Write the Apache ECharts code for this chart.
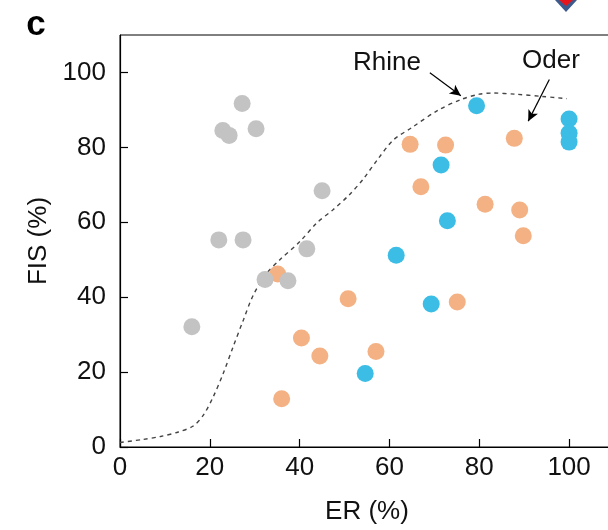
<!DOCTYPE html>
<html>
<head>
<meta charset="utf-8">
<script src="https://cdn.jsdelivr.net/npm/echarts@6/dist/echarts.min.js"></script>
<style>
  html, body { margin: 0; padding: 0; background: #fff; }
  #chart { width: 608px; height: 530px; }
</style>
</head>
<body>
<div id="chart"></div>
<script>
// ER (%) / FIS (%) pairs
const grayPoints = [
  [16.0, 32.1], [22.0, 55.3], [27.4, 55.3], [27.2, 91.7], [22.9, 84.5],
  [24.3, 83.2], [30.3, 85.0], [32.3, 44.7], [37.4, 44.4], [41.6, 52.9], [45.0, 68.4]
];
const orangePoints = [
  [35.1, 46.2], [50.8, 39.6], [40.4, 29.1], [44.5, 24.3], [57.0, 25.5],
  [36.0, 12.9], [64.6, 80.8], [72.5, 80.6], [87.8, 82.4], [67.0, 69.5],
  [81.3, 64.8], [89.0, 63.3], [89.8, 56.4], [75.1, 38.7]
];
const bluePoints = [
  [54.6, 19.6], [61.5, 51.2], [79.4, 91.1], [100, 87.6], [100, 83.8],
  [100, 81.4], [71.5, 75.3], [72.9, 60.4], [69.3, 38.2]
];
// dashed Rhine curve
const rhineCurve = [
  [0, 1.2], [5, 2.0], [9, 2.8], [13, 4.0], [16.3, 5.6], [18.6, 8.6], [20.8, 13.5],
  [23, 19.7], [25.2, 26.8], [27.5, 34], [29.7, 40.6], [32.7, 46.4], [35.6, 50],
  [40.1, 54.9], [43.8, 59.8], [47.5, 63.4], [51.2, 67.5], [54.2, 71.6], [57.5, 77],
  [60.9, 82], [65, 85.3], [70.8, 89.9], [76, 92.8], [80, 94.2], [83, 94.5],
  [88, 94.2], [94, 93.6], [99.5, 93]
];
const xTicks = [0, 20, 40, 60, 80, 100];
const yTicks = [0, 20, 40, 60, 80, 100];
// annotation arrows (start -> end, data coords)
const rhineArrow = [[69.0, 99.9], [75.9, 93.8]];
const oderArrow = [[95.6, 98.1], [90.9, 87.0]];

const font = '"Liberation Sans", Arial, sans-serif';
const chart = echarts.init(document.getElementById('chart'));

chart.setOption({
  animation: false,
  grid: {
    left: 120, top: 35, width: 494, bottom: 83,
    outerBoundsMode: 'none',
    show: true, borderColor: '#000', borderWidth: 1
  },
  xAxis: {
    type: 'value', min: 0, max: 110, interval: 20,
    name: 'ER (%)', nameLocation: 'middle', nameGap: 52,
    nameTextStyle: { fontFamily: font, fontSize: 26, color: '#111' },
    axisLine: { lineStyle: { color: '#000', width: 1.2 } },
    axisTick: { inside: true, length: 8, lineStyle: { color: '#000', width: 1.2 } },
    axisLabel: {
      margin: 8, fontFamily: font, fontSize: 26, color: '#111',
      showMaxLabel: false,
      formatter: v => xTicks.includes(v) ? String(v) : ''
    },
    splitLine: { show: false }
  },
  yAxis: {
    type: 'value', min: 0, max: 110, interval: 20,
    name: 'FIS (%)', nameLocation: 'middle', nameGap: 66, nameRotate: 90,
    nameTextStyle: { fontFamily: font, fontSize: 26, color: '#111' },
    axisLine: { lineStyle: { color: '#000', width: 1.2 } },
    axisTick: { inside: true, length: 8, lineStyle: { color: '#000', width: 1.2 } },
    axisLabel: {
      margin: 14, fontFamily: font, fontSize: 26, color: '#111',
      showMaxLabel: false,
      formatter: v => yTicks.includes(v) ? String(v) : ''
    },
    splitLine: { show: false }
  },
  series: [
    {
      type: 'line', data: rhineCurve, smooth: 0.3, symbol: 'none',
      lineStyle: { color: '#444', width: 1.4, type: [4, 4] },
      z: 1,
      markLine: {
        silent: true,
        symbol: ['none', 'arrow'], symbolSize: [8, 11],
        lineStyle: { color: '#000', width: 1.2, type: 'solid' },
        label: { show: false },
        data: [
          [{ coord: rhineArrow[0] }, { coord: rhineArrow[1] }],
          [{ coord: oderArrow[0] }, { coord: oderArrow[1] }]
        ]
      }
    },
    {
      type: 'scatter', data: orangePoints, symbolSize: 17,
      itemStyle: { color: '#f4b183', opacity: 1 }, z: 2
    },
    {
      type: 'scatter', data: bluePoints, symbolSize: 17,
      itemStyle: { color: '#3bbde6', opacity: 1 }, z: 2
    },
    {
      type: 'scatter', data: grayPoints, symbolSize: 17,
      itemStyle: { color: '#c3c3c3', opacity: 1 }, z: 3
    }
  ],
  graphic: [
    { type: 'text', x: 36, y: 25,
      style: { text: 'c', font: 'bold 35px ' + font, fill: '#000', align: 'center', verticalAlign: 'middle' } },
    { type: 'text', x: 387, y: 63,
      style: { text: 'Rhine', font: '26px ' + font, fill: '#111', align: 'center', verticalAlign: 'middle' } },
    { type: 'text', x: 551, y: 61,
      style: { text: 'Oder', font: '26px ' + font, fill: '#111', align: 'center', verticalAlign: 'middle' } },
    { type: 'polygon', shape: { points: [[555, 0], [577, 0], [566, 12]] },
      style: { fill: '#3d5a8c' } },
    { type: 'polygon', shape: { points: [[559, 0], [573, 0], [566, 6]] },
      style: { fill: '#e8141c' } }
  ]
});
</script>
</body>
</html>
